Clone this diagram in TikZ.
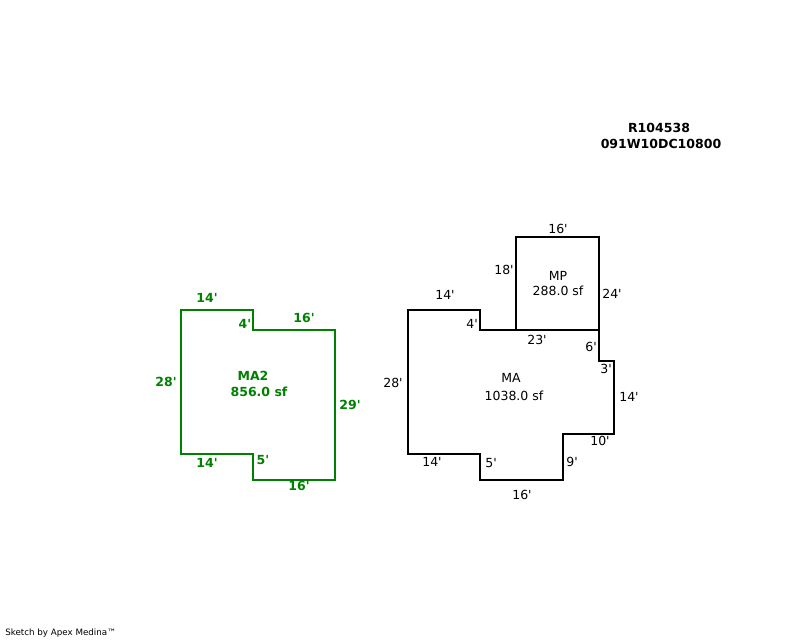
\documentclass[tikz,border=0pt]{standalone}
\usepackage{fontspec}
\setmainfont{DejaVu Sans}[Ligatures=TeXOff]
\definecolor{ma2green}{RGB}{0,128,0}
\tikzset{
  wall/.style={line width=1.5pt,color=black,line join=miter},
  wallgreen/.style={wall,color=ma2green},
  dim/.style={inner sep=0pt,font=\fontsize{8.9}{10}\selectfont,color=black},
  dimgreen/.style={inner sep=0pt,font=\fontsize{8.9}{10}\selectfont\bfseries,color=ma2green},
  tag/.style={inner sep=0pt,font=\fontsize{8.9}{10}\selectfont\bfseries,color=black}
}
\begin{document}
\begin{tikzpicture}[x=0.025cm,y=-0.025cm]
\useasboundingbox (0,0) rectangle (800,640);
% left building
\draw [wallgreen] (181,310)--(253,310)--(253,330)--(335,330)--(335,480)--(253,480)--(253,454)--(181,454)--cycle;
\node [dimgreen] (ma2top) at (207,298) {14'};
\node [dimgreen] (ma2notch) at (245,324) {4'};
\node [dimgreen] (ma2topb) at (304,318) {16'};
\node [dimgreen] (ma2name) at (253,376) {MA2};
\node [dimgreen] (ma2area) at (259,392) {856.0 sf};
\node [dimgreen] (ma2left) at (166,382) {28'};
\node [dimgreen] (ma2right) at (350,405) {29'};
\node [dimgreen] (ma2bot) at (207,463) {14'};
\node [dimgreen] (ma2step) at (263,460) {5'};
\node [dimgreen] (ma2botb) at (299,486) {16'};
% right building
\draw [wall] (408,310)--(480,310)--(480,330)--(599,330)--(599,361)--(614,361)--(614,434)--(563,434)--(563,480)--(480,480)--(480,454)--(408,454)--cycle;
\draw [wall] (516,330)--(516,237)--(599,237)--(599,330);
\node [dim] (mptop) at (558,229) {16'};
\node [dim] (mpleft) at (504,270) {18'};
\node [dim] (mpname) at (558,276) {MP};
\node [dim] (mparea) at (558,291) {288.0 sf};
\node [dim] (mpright) at (612,294) {24'};
\node [dim] (matop) at (445,295) {14'};
\node [dim] (manotch) at (472,324) {4'};
\node [dim] (mashare) at (537,340) {23'};
\node [dim] (maside) at (591,347) {6'};
\node [dim] (majog) at (606,369) {3'};
\node [dim] (maname) at (511,378) {MA};
\node [dim] (maarea) at (514,396) {1038.0 sf};
\node [dim] (maleft) at (393,383) {28'};
\node [dim] (maright) at (629,397) {14'};
\node [dim] (maten) at (600,441) {10'};
\node [dim] (manine) at (572,462) {9'};
\node [dim] (mafive) at (491,463) {5'};
\node [dim] (mabot) at (432,462) {14'};
\node [dim] (mabotb) at (522,495) {16'};
% id and footer
\node [tag] (parcel) at (659,128) {R104538};
\node [tag] (parcelid) at (661,144) {091W10DC10800};
\node [anchor=west,inner sep=0pt,font=\fontsize{6.2}{7}\selectfont] (credit) at (5,633) {Sketch by Apex Medina™};
\end{tikzpicture}
\end{document}
